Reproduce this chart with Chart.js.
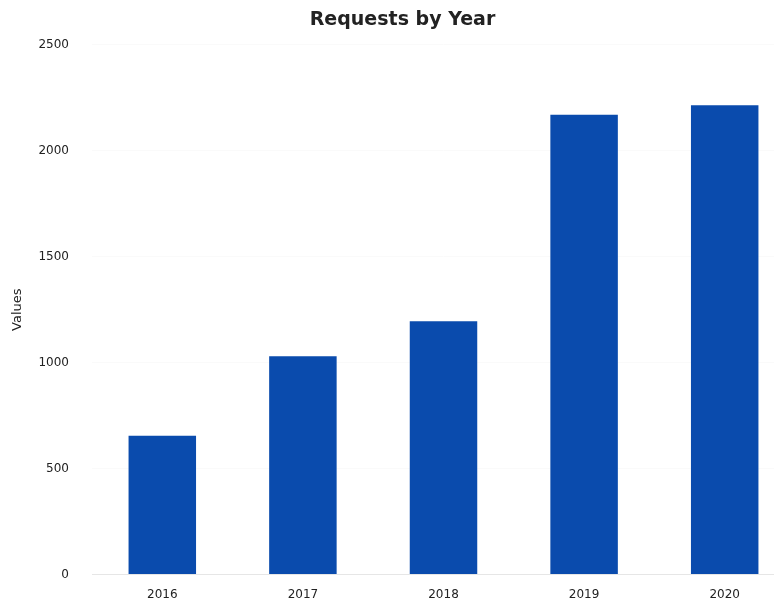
<!DOCTYPE html>
<html>
<head>
<meta charset="utf-8">
<script src="https://cdn.jsdelivr.net/npm/chart.js@4/dist/chart.umd.min.js"></script>
<style>
  html, body { margin:0; padding:0; background:#fff; }
  #wrap { width:774px; height:600px; overflow:hidden; position:relative; }
  canvas { display:block; }
</style>
</head>
<body>
<div id="wrap"><canvas id="chartYears" width="804" height="607"></canvas></div>
<script>
const years = ['2016', '2017', '2018', '2019', '2020'];
const requests = [655, 1030, 1195, 2170, 2215];
const yTicks = [0, 500, 1000, 1500, 2000, 2500];

const FONT = '"DejaVu Sans", "Open Sans", sans-serif';

const ctx = document.getElementById('chartYears').getContext('2d');
new Chart(ctx, {
  type: 'bar',
  data: {
    labels: years,
    datasets: [{
      label: 'Requests',
      data: requests,
      backgroundColor: '#0a4bad',
      barPercentage: 0.6,
      categoryPercentage: 0.8
    }]
  },
  options: {
    responsive: false,
    animation: false,
    layout: { padding: { left: 10, right: 9, top: 6, bottom: 0 } },
    plugins: {
      legend: { display: false },
      tooltip: { enabled: false },
      title: {
        display: true,
        text: 'Requests by Year',
        color: '#222',
        font: { family: FONT, size: 19, weight: 'bold' },
        padding: { top: 3, bottom: 13 }
      }
    },
    scales: {
      x: {
        grid: { display: false },
        border: { display: true, color: '#e6e6e6' },
        ticks: { color: '#222', font: { family: FONT, size: 12 }, padding: 5 }
      },
      y: {
        min: 0,
        max: 2500,
        afterBuildTicks: axis => { axis.ticks = yTicks.map(v => ({ value: v })); },
        afterFit: axis => { axis.width = 82; },
        grid: { color: 'rgba(0,0,0,0.02)', drawTicks: false },
        border: { display: false },
        ticks: {
          color: '#222',
          font: { family: FONT, size: 12 },
          padding: 23,
          callback: v => String(v)
        },
        title: {
          display: true,
          text: 'Values',
          color: '#222',
          font: { family: FONT, size: 13 },
          padding: { top: 0, bottom: 8 }
        }
      }
    }
  }
});
</script>
</body>
</html>
